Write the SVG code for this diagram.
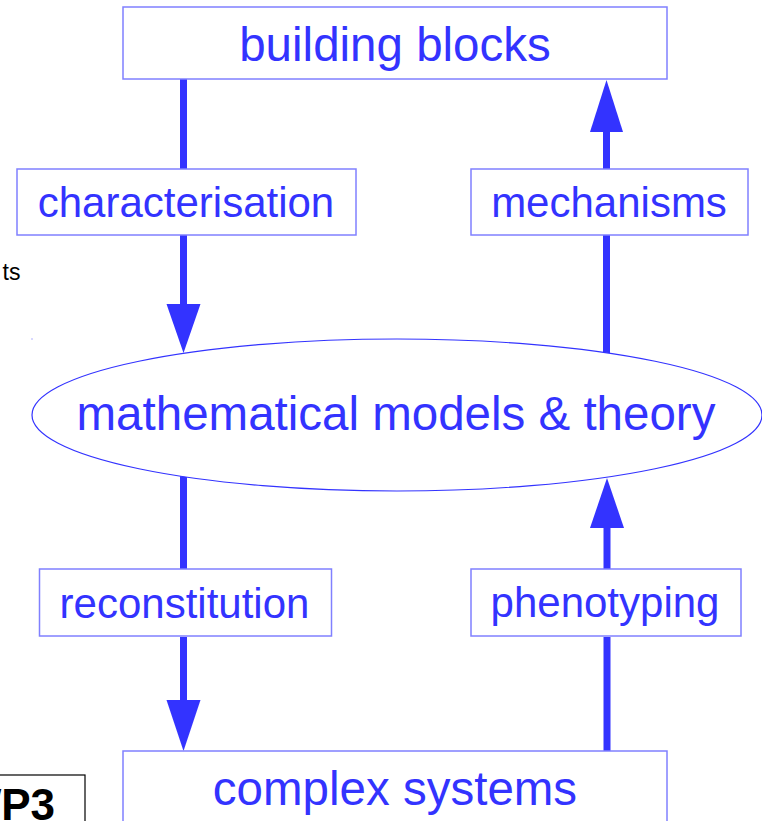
<svg xmlns="http://www.w3.org/2000/svg" width="762" height="821" viewBox="0 0 762 821">
<style>
.box{fill:#ffffff;stroke:#8080ff;stroke-width:1.5}
.lbl{font-family:"Liberation Sans",Arial,sans-serif;fill:#3333ff;text-anchor:middle}
.big{font-size:47.5px}
.small{font-size:42px}
.shaft{stroke:#3333ff;stroke-width:7;fill:none}
.head{fill:#3333ff}
</style>
<rect width="762" height="821" fill="#ffffff"/>
<text x="20.5" y="280" font-family="Liberation Sans,Arial,sans-serif" font-size="23" text-anchor="end" fill="#000000">ts</text>
<rect x="31.5" y="338.5" width="1" height="1" fill="#6666ff"/>
<g id="wp3">
<rect x="-20" y="775" width="105" height="60" fill="#ffffff" stroke="#000000" stroke-width="1.2"/>
<text x="55" y="820" font-family="Liberation Sans,Arial,sans-serif" font-size="44" font-weight="bold" text-anchor="end" fill="#000000">WP3</text>
</g>
<g id="connectors">
<line class="shaft" x1="183.5" y1="79" x2="183.5" y2="169"/>
<line class="shaft" x1="183.5" y1="235" x2="183.5" y2="306"/>
<polygon class="head" points="166.5,304 200.5,304 183.5,353"/>
<line class="shaft" x1="606.5" y1="130" x2="606.5" y2="169"/>
<line class="shaft" x1="606.5" y1="235" x2="606.5" y2="356"/>
<polygon class="head" points="590,132 623,132 606.5,80"/>
<line class="shaft" x1="183.5" y1="476" x2="183.5" y2="569"/>
<line class="shaft" x1="183.5" y1="637" x2="183.5" y2="702"/>
<polygon class="head" points="166.5,700 200.5,700 183.5,751"/>
<line class="shaft" x1="607" y1="528" x2="607" y2="569"/>
<line class="shaft" x1="607" y1="637" x2="607" y2="751"/>
<polygon class="head" points="590,528 624,528 607,478"/>
</g>
<g id="building-blocks">
<rect class="box" x="123" y="7" width="544" height="72"/>
<text class="lbl big" x="395" y="61">building blocks</text>
</g>
<g id="characterisation">
<rect class="box" x="17" y="169" width="339" height="66"/>
<text class="lbl small" x="186" y="217">characterisation</text>
</g>
<g id="mechanisms">
<rect class="box" x="471" y="169" width="277" height="66"/>
<text class="lbl small" x="609" y="217">mechanisms</text>
</g>
<g id="models">
<ellipse cx="397" cy="415" rx="365" ry="76" fill="#ffffff" stroke="#3333ff" stroke-width="1.2"/>
<text class="lbl big" x="396" y="430">mathematical models &amp; theory</text>
</g>
<g id="reconstitution">
<rect class="box" x="39.5" y="569" width="292" height="67"/>
<text class="lbl small" x="184.5" y="618">reconstitution</text>
</g>
<g id="phenotyping">
<rect class="box" x="471" y="569" width="270" height="67"/>
<text class="lbl small" x="605" y="617">phenotyping</text>
</g>
<g id="complex-systems">
<rect class="box" x="123" y="751" width="544" height="90"/>
<text class="lbl big" x="395" y="805">complex systems</text>
</g>
</svg>
